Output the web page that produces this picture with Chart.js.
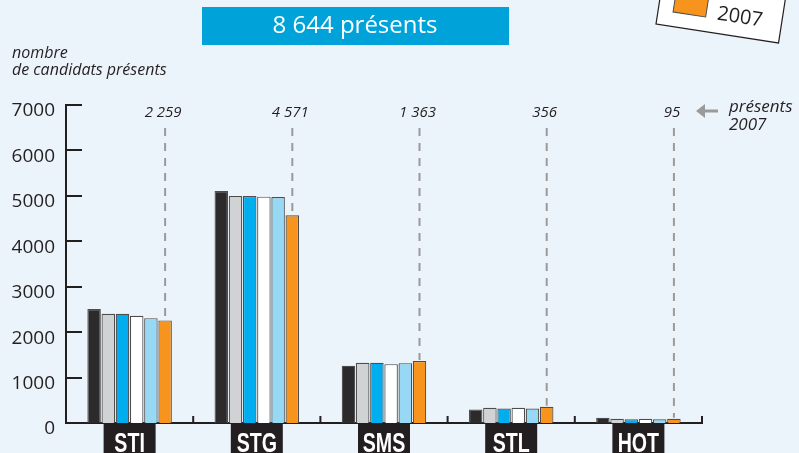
<!DOCTYPE html>
<html>
<head>
<meta charset="utf-8">
<script src="https://cdn.jsdelivr.net/npm/chart.js@4.4.1/dist/chart.umd.min.js"></script>
<style>
  html, body { margin: 0; padding: 0; background: #ecf4fb; }
  #wrap { width: 799px; height: 453px; position: relative; }
</style>
</head>
<body>
<div id="wrap"><canvas id="chart" width="799" height="453"></canvas></div>
<script>
// categories (séries du bac techno)
const categories = ['STI', 'STG', 'SMS', 'STL', 'HOT'];
const years = ['2002', '2003', '2004', '2005', '2006', '2007'];

// nombre de candidats présents, une liste par année
const y2002 = [2507, 5106, 1260, 297, 114];
const y2003 = [2405, 4996, 1326, 335, 92];
const y2004 = [2405, 4996, 1326, 319, 84];
const y2005 = [2361, 4982, 1295, 335, 92];
const y2006 = [2308, 4975, 1318, 319, 84];
const y2007 = [2259, 4571, 1363, 356, 95];

const presentLabels = ['2 259', '4 571', '1 363', '356', '95'];
const yTicks = [0, 1000, 2000, 3000, 4000, 5000, 6000, 7000];
const titleText = '8 644 présents';

const colors = ['#2d2a2b', '#d1d2d4', '#00aeef', '#ffffff', '#97d9f4', '#f7941d'];
const seriesValues = [y2002, y2003, y2004, y2005, y2006, y2007];

const decor = {
    id: 'decor',
    beforeDraw(chart) {
        const ctx = chart.ctx;
        ctx.save();
        ctx.fillStyle = '#ecf4fb';
        ctx.fillRect(0, 0, chart.width, chart.height);

        // title box
        ctx.fillStyle = '#00a3d9';
        ctx.fillRect(202, 7, 307, 38);
        ctx.fillStyle = '#ffffff';
        ctx.font = '24px "Open Sans"';
        ctx.textAlign = 'center';
        ctx.textBaseline = 'middle';
        ctx.fillText(titleText, 355, 26);

        // axis title
        ctx.fillStyle = '#231f20';
        ctx.font = 'italic 16px "Open Sans"';
        ctx.textAlign = 'left';
        ctx.textBaseline = 'alphabetic';
        ctx.fillText('nombre', 12, 58);
        ctx.fillText('de candidats présents', 12, 75);

        // rotated legend card (mostly off the top)
        ctx.translate(656, 24);
        ctx.rotate(0.154);
        ctx.fillStyle = '#ffffff';
        ctx.strokeStyle = '#231f20';
        ctx.lineWidth = 1.2;
        ctx.fillRect(0, -230, 124, 230);
        ctx.strokeRect(0, -230, 124, 230);
        const ds = chart.data.datasets;
        ctx.font = '20px "Open Sans"';
        ctx.textBaseline = 'middle';
        for (let i = ds.length - 1, k = 0; i >= 0; i--, k++) {
            const by = -14.5 - k * 32;
            ctx.fillStyle = ds[i].backgroundColor;
            ctx.fillRect(15, by - 22, 33, 22);
            ctx.strokeStyle = '#4d4d4d';
            ctx.lineWidth = 1;
            ctx.strokeRect(15, by - 22, 33, 22);
            ctx.fillStyle = '#231f20';
            ctx.fillText(ds[i].label, 59, by - 5);
        }
        ctx.restore();
    },
    afterDatasetsDraw(chart) {
        const ctx = chart.ctx;
        const x = chart.scales.x;
        const y = chart.scales.y;
        const area = chart.chartArea;
        ctx.save();

        // dashed guides over the 2007 bars + values
        const last = chart.getDatasetMeta(chart.data.datasets.length - 1);
        last.data.forEach((bar, i) => {
            ctx.strokeStyle = '#9a9a9a';
            ctx.lineWidth = 2;
            ctx.setLineDash([8, 7]);
            ctx.beginPath();
            ctx.moveTo(bar.x, 128);
            ctx.lineTo(bar.x, bar.y - 1);
            ctx.stroke();
            ctx.setLineDash([]);
            ctx.fillStyle = '#231f20';
            ctx.font = 'italic 15px "Open Sans"';
            ctx.textAlign = 'center';
            ctx.textBaseline = 'middle';
            ctx.fillText(presentLabels[i], bar.x - 2, 113);
        });

        // inward y ticks
        ctx.strokeStyle = '#231f20';
        ctx.lineWidth = 2;
        yTicks.forEach(v => {
            if (v === 0) return;
            const py = Math.round(y.getPixelForValue(v));
            ctx.beginPath();
            ctx.moveTo(area.left, py);
            ctx.lineTo(area.left + 16, py);
            ctx.stroke();
        });

        // small upticks between categories
        for (let i = 0; i < categories.length; i++) {
            const px = i < categories.length - 1
                ? (x.getPixelForValue(i) + x.getPixelForValue(i + 1)) / 2
                : area.right;
            ctx.beginPath();
            ctx.moveTo(px, area.bottom);
            ctx.lineTo(px, area.bottom - 7);
            ctx.stroke();
        }

        // category labels in black boxes
        categories.forEach((c, i) => {
            const px = x.getPixelForValue(i);
            ctx.fillStyle = '#231f20';
            ctx.fillRect(px - 26, 424, 52, 30);
            ctx.save();
            ctx.translate(px, 452);
            ctx.scale(0.7, 1);
            ctx.fillStyle = '#ffffff';
            ctx.font = 'bold 28px "Liberation Sans"';
            ctx.textAlign = 'center';
            ctx.textBaseline = 'alphabetic';
            ctx.fillText(c, 0, 0);
            ctx.restore();
        });

        // arrow + "présents 2007"
        ctx.fillStyle = '#9a9a9a';
        ctx.strokeStyle = '#9a9a9a';
        ctx.lineWidth = 3;
        ctx.beginPath();
        ctx.moveTo(703, 111);
        ctx.lineTo(718, 111);
        ctx.stroke();
        ctx.beginPath();
        ctx.moveTo(696, 111);
        ctx.lineTo(705, 104);
        ctx.lineTo(705, 118);
        ctx.closePath();
        ctx.fill();
        ctx.fillStyle = '#231f20';
        ctx.font = 'italic 17px "Open Sans"';
        ctx.textAlign = 'left';
        ctx.textBaseline = 'alphabetic';
        ctx.fillText('présents', 729, 112);
        ctx.fillText('2007', 729, 130);
        ctx.restore();
    }
};

const ctx = document.getElementById('chart').getContext('2d');
new Chart(ctx, {
    type: 'bar',
    data: {
        labels: categories,
        datasets: years.map((yr, i) => ({
            label: yr,
            data: seriesValues[i],
            backgroundColor: colors[i],
            borderColor: '#4d4d4d',
            borderWidth: 1.2,
            barPercentage: 0.95,
            categoryPercentage: 0.67
        }))
    },
    options: {
        responsive: false,
        animation: false,
        events: [],
        layout: { padding: { left: 0, right: 97, top: 105, bottom: 0 } },
        plugins: {
            legend: { display: false },
            tooltip: { enabled: false },
            title: { display: false }
        },
        scales: {
            x: {
                offset: true,
                grid: { display: false },
                border: { display: true, color: '#231f20', width: 2 },
                ticks: { display: false },
                afterFit(scale) { scale.height = 30; }
            },
            y: {
                min: 0,
                max: 7000,
                afterBuildTicks(scale) { scale.ticks = yTicks.map(v => ({ value: v })); },
                grid: { display: false, drawTicks: false },
                border: { display: true, color: '#231f20', width: 2 },
                ticks: {
                    padding: 11,
                    labelOffset: 6,
                    color: '#231f20',
                    font: { family: 'Open Sans', size: 19 },
                    callback: v => String(v)
                },
                afterFit(scale) { scale.width = 66; }
            }
        }
    },
    plugins: [decor]
});
</script>
</body>
</html>
